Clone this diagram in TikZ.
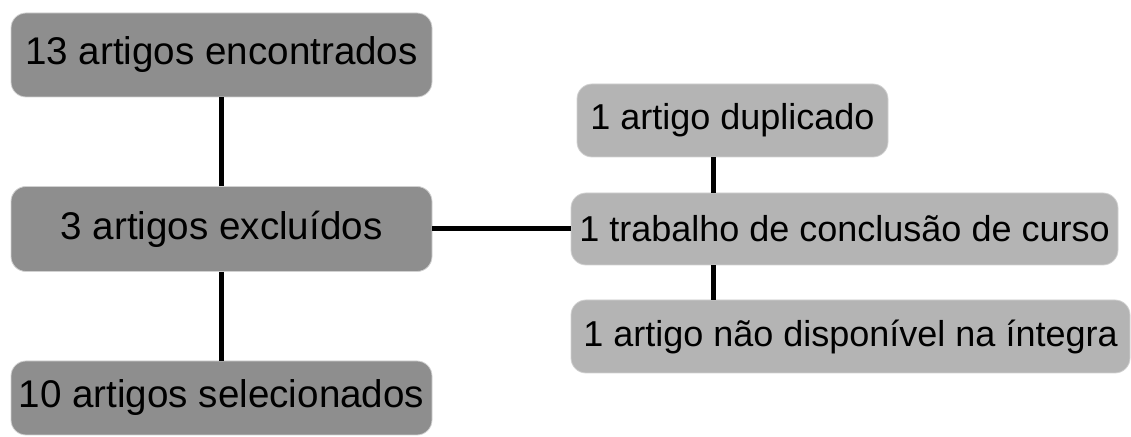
\documentclass[tikz,border=0pt]{standalone}
\usepackage{fontspec}
\setmainfont{Liberation Sans}
\definecolor{boxdark}{HTML}{8E8E8E}
\definecolor{boxlight}{HTML}{B4B4B4}
\begin{document}
\begin{tikzpicture}[x=0.5pt,y=-0.5pt,
    box/.style={rounded corners=7.5pt,draw=white!82!black,line width=0.4pt,
      inner sep=0pt},
    leftbox/.style={box,fill=boxdark,minimum width=210.5pt,
      font=\fontsize{19.3}{22}\selectfont},
    rightbox/.style={box,fill=boxlight,font=\fontsize{18}{21}\selectfont},
    link/.style={line width=2.5pt}]
    \useasboundingbox (0,0) rectangle (1131,437);
    \node[leftbox,minimum height=42pt] (found) at (221.5,55) {13 artigos encontrados};
    \node[leftbox,minimum height=42.5pt] (excluded) at (221.5,229) {3 artigos excluídos};
    \node[leftbox,minimum height=37pt] (selected) at (221.5,398) {10 artigos selecionados};
    \node[rightbox,minimum width=155.5pt,minimum height=36.5pt] (dup) at (732.5,120.5)
      {1 artigo duplicado};
    \node[rightbox,minimum width=273.5pt,minimum height=36pt] (tcc) at (844.5,229)
      {1 trabalho de conclusão de curso};
    \node[rightbox,minimum width=279.5pt,minimum height=36.5pt] (unavail) at (850.5,336.5)
      {1 artigo não disponível na íntegra};
    \coordinate (rx) at (713,0);
    \foreach \a/\b in {found/excluded, excluded/selected}
      \draw[link] (\a) -- (\b);
    \draw[link] (excluded.east) -- (excluded.east -| tcc.west);
    \foreach \a/\b in {dup/tcc, tcc/unavail}
      \draw[link] (\a.south -| rx) -- (\b.north -| rx);
  \end{tikzpicture}
\end{document}
